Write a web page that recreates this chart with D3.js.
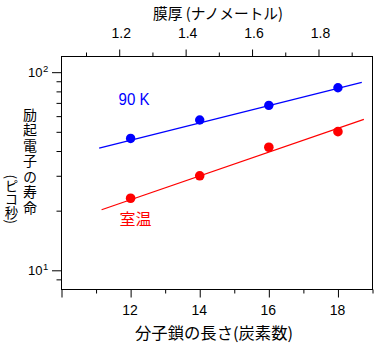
<!DOCTYPE html>
<html>
<head>
<meta charset="utf-8">
<script src="https://cdn.jsdelivr.net/npm/d3@7"></script>
<style>
  html, body { margin: 0; padding: 0; background: #fff; }
  svg { display: block; }
  .num { font-family: "Liberation Sans", Arial, sans-serif; }
  .jp { font-family: "Noto Sans CJK JP", sans-serif; }
</style>
</head>
<body>
<svg id="chart" width="379" height="345"></svg>
<script>
// ---- data ----
const carbonNumbers = [12, 14, 16, 18];
const lifetime90K = [46.3, 57.4, 68.0, 83.5];
const lifetimeRT = [23.1, 30.0, 41.8, 50.1];
const fitX90K = [11.09, 18.69];
const fit90K = [41.4, 88.9];
const fitXRT = [11.16, 18.75];
const fitRT = [20.2, 57.8];
const bottomMajorTicks = [10, 12, 14, 16, 18];
const bottomMinorTicks = [11, 13, 15, 17, 19];
const topMajorTicks = [1.2, 1.4, 1.6, 1.8];
const topMinorTicks = [1.1, 1.3, 1.5, 1.7, 1.9];
const leftMajorTicks = [10, 100];
const leftMinorTicks = [9, 20, 30, 40, 50, 60, 70, 80, 90];
const leftTickExponents = ["1", "2"];
const xTitle = "分子鎖の長さ(炭素数)";
const topTitle = "膜厚 (ナノメートル)";
const yTitle1 = "励起電子の寿命";
const yTitle2 = "(ピコ秒)";
const label90K = "90 K";
const labelRT = "室温";

// ---- layout ----
const L = 61.5, R = 372.5, T = 56.5, B = 289.5;
const svg = d3.select("#chart");

const x = d3.scaleLinear().domain([10, 19]).range([L, R]);
const xTop = d3.scaleLinear().domain([1.0262, 1.9627]).range([L, R]);
const y = d3.scaleLog().domain([8, 120]).range([B, T]);

// frame
svg.append("rect").attr("x", L).attr("y", T).attr("width", R - L).attr("height", B - T)
  .attr("fill", "none").attr("stroke", "#000").attr("stroke-width", 1);

function styleAxis(g) {
  g.select(".domain").remove();
  g.selectAll("line").attr("stroke", "#000").attr("stroke-width", 1);
}

// bottom axis
svg.append("g").attr("transform", `translate(0,${B})`)
  .call(d3.axisBottom(x).tickValues(bottomMajorTicks).tickSize(8)
    .tickFormat(d => d === 10 ? "" : d3.format("d")(d)))
  .call(styleAxis)
  .call(g => g.selectAll("text").attr("class", "num").attr("font-size", 14)
    .attr("fill", "#000").attr("y", 25.5).attr("dy", null).attr("dx", -1));
svg.append("g").attr("transform", `translate(0,${B})`)
  .call(d3.axisBottom(x).tickValues(bottomMinorTicks).tickSize(4).tickFormat(""))
  .call(styleAxis);

// top axis
svg.append("g").attr("transform", `translate(0,${T})`)
  .call(d3.axisTop(xTop).tickValues(topMajorTicks).tickSize(7).tickFormat(d3.format(".1f")))
  .call(styleAxis)
  .call(g => g.selectAll("text").attr("class", "num").attr("font-size", 14)
    .attr("fill", "#000").attr("y", -18.2).attr("dy", null).attr("dx", 1.5));
svg.append("g").attr("transform", `translate(0,${T})`)
  .call(d3.axisTop(xTop).tickValues(topMinorTicks).tickSize(4).tickFormat(""))
  .call(styleAxis);

// left axis
svg.append("g").attr("transform", `translate(${L},0)`)
  .call(d3.axisLeft(y).tickValues(leftMajorTicks).tickSize(9.5).tickFormat(""))
  .call(styleAxis);
svg.append("g").attr("transform", `translate(${L},0)`)
  .call(d3.axisLeft(y).tickValues(leftMinorTicks).tickSize(5).tickFormat(""))
  .call(styleAxis);
leftMajorTicks.forEach((v, i) => {
  const t = svg.append("text").attr("class", "num").attr("fill", "#000")
    .attr("x", 28).attr("y", y(v) + 4.5).attr("font-size", 13);
  t.append("tspan").text("10");
  t.append("tspan").attr("font-size", 9.5).attr("dy", -4.8).attr("dx", 0.5)
    .text(leftTickExponents[i]);
});

// fit lines
const line = d3.line().x(d => x(d[0])).y(d => y(d[1]));
svg.append("path").datum(d3.zip(fitX90K, fit90K)).attr("d", line)
  .attr("fill", "none").attr("stroke", "#0000ff").attr("stroke-width", 1.2);
svg.append("path").datum(d3.zip(fitXRT, fitRT)).attr("d", line)
  .attr("fill", "none").attr("stroke", "#ff0000").attr("stroke-width", 1.2);

// points
svg.append("g").selectAll("circle").data(d3.zip(carbonNumbers, lifetime90K)).join("circle")
  .attr("cx", d => x(d[0])).attr("cy", d => y(d[1])).attr("r", 4.7).attr("fill", "#0000ff");
svg.append("g").selectAll("circle").data(d3.zip(carbonNumbers, lifetimeRT)).join("circle")
  .attr("cx", d => x(d[0])).attr("cy", d => y(d[1])).attr("r", 4.8).attr("fill", "#ff0000");

// series labels
svg.append("text").attr("class", "num").attr("x", 118.5).attr("y", 105)
  .attr("font-size", 17).attr("fill", "#0000ff")
  .attr("textLength", 31).attr("lengthAdjust", "spacingAndGlyphs").text(label90K);
svg.append("text").attr("class", "jp").attr("x", 119.5).attr("y", 225)
  .attr("font-size", 16).attr("fill", "#ff0000").text(labelRT);

// titles
svg.append("text").attr("class", "jp").attr("x", 153).attr("y", 18.5)
  .attr("font-size", 15).attr("fill", "#000")
  .attr("textLength", 130).attr("lengthAdjust", "spacingAndGlyphs").text(topTitle);
svg.append("text").attr("class", "jp").attr("x", 135).attr("y", 338.5)
  .attr("font-size", 16).attr("fill", "#000")
  .attr("textLength", 158).attr("lengthAdjust", "spacingAndGlyphs").text(xTitle);

// vertical y title (two columns, vertical writing)
function vtext(str, cx, top, size, spacing) {
  svg.append("text").attr("class", "jp")
    .attr("x", cx).attr("y", top)
    .attr("font-size", size).attr("fill", "#000")
    .style("writing-mode", "vertical-rl")
    .style("letter-spacing", spacing + "px")
    .text(str);
}
vtext(yTitle1, 30, 107.5, 14, 1.5);
vtext(yTitle2, 11.5, 174.5, 13.5, 0);
</script>
</body>
</html>
